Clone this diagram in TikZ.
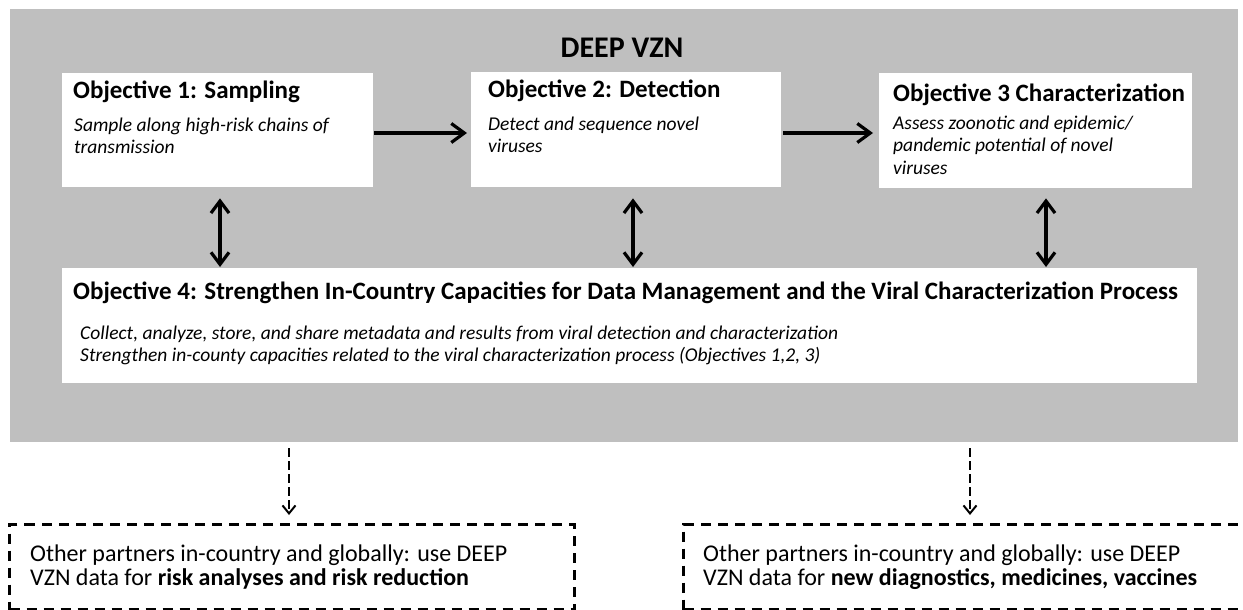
\documentclass[tikz,border=0pt]{standalone}
\usepackage{fontspec}
\setmainfont{Carlito}
\usetikzlibrary{arrows.meta}
\definecolor{panelgray}{HTML}{BFBFBF}
\tikzset{
  objbox/.style={fill=white, draw=none, anchor=north west, inner sep=0pt},
  headtxt/.style={anchor=base west, inner sep=0pt, font=\fontsize{25}{30}\selectfont\bfseries},
  desctxt/.style={anchor=base west, inner sep=0pt, font=\fontsize{19.5}{22.5}\selectfont\itshape},
  flow/.style={line width=3.2pt, -{Straight Barb[length=13pt,width=19pt,line width=3.2pt]}},
  biflow/.style={line width=3.2pt, {Straight Barb[length=12pt,width=18pt,line width=3.2pt]}-{Straight Barb[length=12pt,width=18pt,line width=3.2pt]}},
  outflow/.style={line width=2pt, dash pattern=on 9pt off 4pt, -{Straight Barb[length=8pt,width=13pt,line width=2pt]}},
  outbox/.style={draw, line width=3pt, dash pattern=on 10pt off 7pt, anchor=north west, inner sep=0pt},
  outtxt/.style={anchor=base west, inner sep=0pt, font=\fontsize{24}{24}\selectfont}
}
\begin{document}
\begin{tikzpicture}[x=1pt,y=-1pt]
\useasboundingbox (0,0) rectangle (1243,610);
\begin{scope}
\clip (0,0) rectangle (1243,610);
% gray panel
\node[fill=panelgray, anchor=north west, inner sep=0pt, minimum width=1228pt, minimum height=433pt] (panel) at (10,9) {};
\node[font=\fontsize{30}{34}\selectfont\bfseries, inner sep=0pt, anchor=base] (title) at (622,58) {DEEP VZN};
% objective boxes
\node[objbox, minimum width=311pt, minimum height=114pt] (b1) at (62,73) {};
\node[objbox, minimum width=310pt, minimum height=115pt] (b2) at (471,72) {};
\node[objbox, minimum width=313pt, minimum height=115pt] (b3) at (879,73) {};
\node[objbox, minimum width=1135pt, minimum height=115pt] (b4) at (62,268) {};
% texts
\node[headtxt] (h1) at (73,99) {Objective 1: Sampling};
\node[desctxt] (d1) at (74,131) {\vtop{\hbox{Sample along high-risk chains of}\hbox{transmission}}};
\node[headtxt] (h2) at (488,98) {Objective 2: Detection};
\node[desctxt] (d2) at (488,130) {\vtop{\hbox{Detect and sequence novel}\hbox{viruses}}};
\node[headtxt] (h3) at (893,101) {Objective 3 Characterization};
\node[desctxt] (d3) at (893,129) {\vtop{\hbox{Assess zoonotic and epidemic/}\hbox{pandemic potential of novel}\hbox{viruses}}};
\node[headtxt] (h4) at (73,299) {Objective 4: Strengthen In-Country Capacities for Data Management and the Viral Characterization Process};
\node[desctxt] (d4) at (80,339) {\vtop{\hbox{Collect, analyze, store, and share metadata and results from viral detection and characterization}\hbox{Strengthen in-county capacities related to the viral characterization process (Objectives 1,2, 3)}}};
% horizontal arrows
\draw[flow] ([xshift=1pt]b1.east |- 0,133) -- ([xshift=-4pt]b2.west |- 0,133);
\draw[flow] ([xshift=2pt]b2.east |- 0,133) -- ([xshift=-6pt]b3.west |- 0,133);
% vertical double arrows
\coordinate (c1) at (220,0);
\coordinate (c2) at (633,0);
\coordinate (c3) at (1046,0);
\draw[biflow] ([yshift=-11pt]b1.south -| c1) -- ([yshift=1pt]b4.north -| c1);
\draw[biflow] ([yshift=-11pt]b2.south -| c2) -- ([yshift=1pt]b4.north -| c2);
\draw[biflow] ([yshift=-10pt]b3.south -| c3) -- ([yshift=1pt]b4.north -| c3);
% output boxes
\node[outbox, minimum width=565pt, minimum height=85pt] (o1) at (8,523) {};
\node[outbox, minimum width=600pt, minimum height=85pt] (o2) at (682,523) {};
\node[outtxt] (t1) at (30,561) {\vtop{\hbox{Other partners in-country and globally: use DEEP}\hbox{VZN data for \textbf{risk analyses and risk reduction}}}};
\node[outtxt] (t2) at (703,561) {\vtop{\hbox{Other partners in-country and globally: use DEEP}\hbox{VZN data for \textbf{new diagnostics, medicines, vaccines}}}};
\coordinate (e1) at (289,0);
\coordinate (e2) at (970,0);
\draw[outflow] ([yshift=-6pt]panel.south -| e1) -- ([yshift=8pt]o1.north -| e1);
\draw[outflow] ([yshift=-6pt]panel.south -| e2) -- ([yshift=8pt]o2.north -| e2);
\end{scope}
\end{tikzpicture}
\end{document}
